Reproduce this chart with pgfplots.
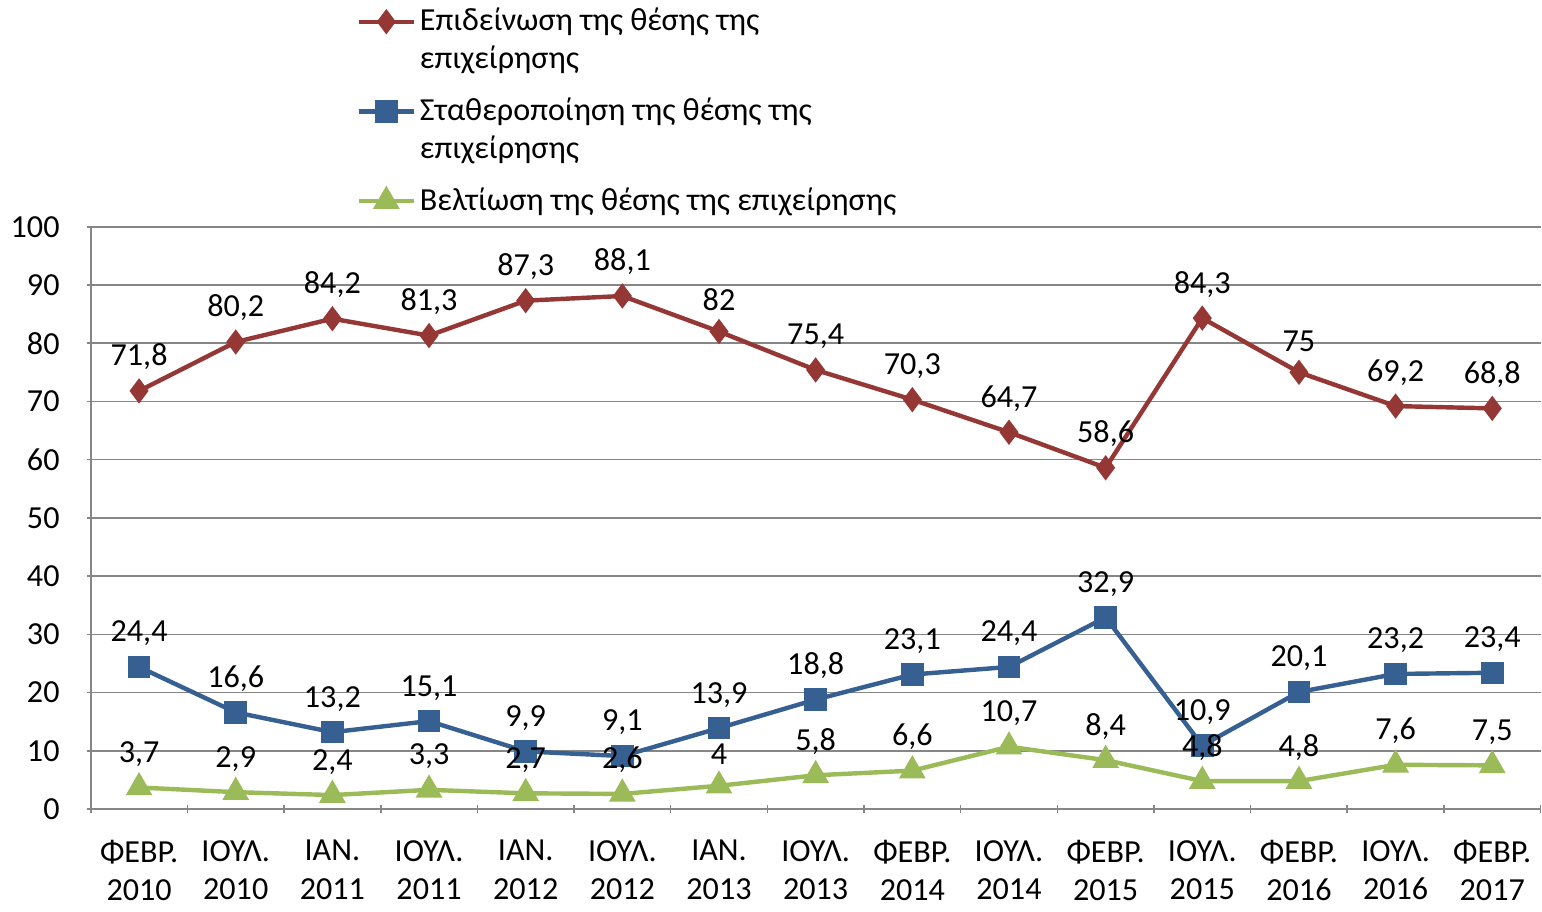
\documentclass[border=0pt]{standalone}
\usepackage{fontspec}
\setmainfont{Carlito}
\usepackage{pgfplots}
\pgfplotsset{compat=1.18}
\definecolor{redser}{HTML}{953735}
\definecolor{blueser}{HTML}{376092}
\definecolor{greenser}{HTML}{9BBB59}
\definecolor{gridc}{HTML}{868686}
\pgfkeys{/pgf/number format/.cd, use comma, assume math mode=true}
\pgfplotsset{
    raised legend/.style={legend image code/.code={\draw[mark repeat=2, mark phase=2, yshift=9.5pt] plot coordinates {(0cm,0cm) (0.48cm,0cm) (0.96cm,0cm)};}},
}

\begin{document}
\fontsize{16}{19}\selectfont
\begin{tikzpicture}
\begin{axis}[
    scale only axis,
    width=722pt, height=290pt,
    xmin=-0.5, xmax=14.5, ymin=0, ymax=100,
    ytick={0,10,...,100},
    xtick={0,...,14},
    xticklabels={{ΦΕΒΡ.\\2010},{ΙΟΥΛ.\\2010},{ΙΑΝ.\\2011},{ΙΟΥΛ.\\2011},{ΙΑΝ.\\2012},{ΙΟΥΛ.\\2012},{ΙΑΝ.\\2013},{ΙΟΥΛ.\\2013},{ΦΕΒΡ.\\2014},{ΙΟΥΛ.\\2014},{ΦΕΒΡ.\\2015},{ΙΟΥΛ.\\2015},{ΦΕΒΡ.\\2016},{ΙΟΥΛ.\\2016},{ΦΕΒΡ.\\2017}},
    xticklabel style={align=center, yshift=-8pt},
    yticklabel style={xshift=-8pt},
    minor xtick={-0.5,0.5,...,14.5},
    major x tick style={draw=none},
    tick align=outside,
    major tick length=4pt, minor tick length=4pt,
    tick style={gridc, line width=0.8pt},
    axis lines=left,
    axis line style={-, draw=gridc, line width=0.8pt},
    ymajorgrids,
    grid style={gridc, line width=0.8pt},
    clip=false,
    nodes near coords,
    nodes near coords style={text=black, yshift=4pt},
    legend style={at={(0.179,1.39)}, anchor=north west, draw=none, fill=none,
        cells={align=left, anchor=west}, nodes={xshift=-6pt}, row sep=8pt},
    legend image code/.code={\draw[mark repeat=2, mark phase=2] plot coordinates {(0cm,0cm) (0.48cm,0cm) (0.96cm,0cm)};},
]
\addplot[redser, line width=2.2pt, mark=diamond*, mark size=4.5pt, mark options={solid}, raised legend] coordinates {
(0,71.8) (1,80.2) (2,84.2) (3,81.3) (4,87.3) (5,88.1) (6,82) (7,75.4) (8,70.3) (9,64.7) (10,58.6) (11,84.3) (12,75) (13,69.2) (14,68.8)};
\addlegendentry{Επιδείνωση της θέσης της\\επιχείρησης}
\addplot[blueser, line width=2.2pt, mark=square*, mark size=4.5pt, raised legend] coordinates {
(0,24.4) (1,16.6) (2,13.2) (3,15.1) (4,9.9) (5,9.1) (6,13.9) (7,18.8) (8,23.1) (9,24.4) (10,32.9) (11,10.9) (12,20.1) (13,23.2) (14,23.4)};
\addlegendentry{Σταθεροποίηση της θέσης της\\επιχείρησης}
\addplot[greenser, line width=2.2pt, mark=triangle*, mark size=5.5pt] coordinates {
(0,3.7) (1,2.9) (2,2.4) (3,3.3) (4,2.7) (5,2.6) (6,4) (7,5.8) (8,6.6) (9,10.7) (10,8.4) (11,4.8) (12,4.8) (13,7.6) (14,7.5)};
\addlegendentry{Βελτίωση της θέσης της επιχείρησης}
\end{axis}
\end{tikzpicture}
\end{document}
